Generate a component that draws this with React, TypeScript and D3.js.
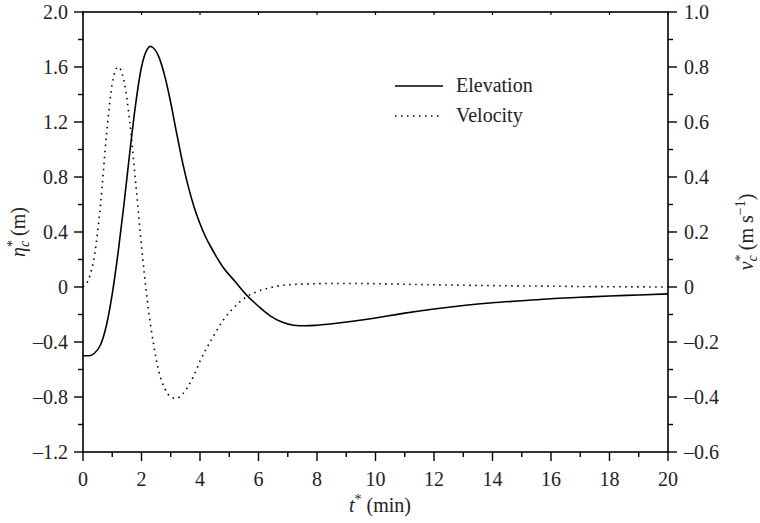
import React from "react";
import * as d3 from "d3";

const elevT = [0, 0.2, 0.4, 0.6, 0.8, 1.0, 1.2, 1.4, 1.6, 1.8, 2.0, 2.2, 2.3, 2.4, 2.6, 2.8, 3.0, 3.2, 3.4, 3.6, 3.8, 4.0, 4.2, 4.4, 4.8, 5.2, 5.6, 6.0, 6.4, 6.8, 7.2, 7.6, 8.0, 9, 10, 11, 12, 13, 14, 15, 16, 17, 18, 19, 20];
const elevV = [-0.5, -0.5, -0.48, -0.42, -0.28, -0.05, 0.25, 0.6, 0.98, 1.33, 1.6, 1.73, 1.75, 1.74, 1.67, 1.53, 1.34, 1.12, 0.91, 0.73, 0.58, 0.46, 0.36, 0.28, 0.14, 0.04, -0.06, -0.14, -0.21, -0.255, -0.278, -0.282, -0.278, -0.255, -0.225, -0.19, -0.16, -0.135, -0.115, -0.1, -0.085, -0.075, -0.065, -0.058, -0.05];

const velT = [0, 0.2, 0.4, 0.6, 0.8, 1.0, 1.2, 1.4, 1.6, 1.8, 2.0, 2.2, 2.4, 2.6, 2.8, 3.0, 3.2, 3.4, 3.6, 3.8, 4.0, 4.4, 4.8, 5.2, 5.6, 6.0, 6.5, 7, 8, 9, 10, 12, 14, 16, 18, 20];
const velV = [0, 0.03, 0.12, 0.3, 0.55, 0.74, 0.8, 0.75, 0.6, 0.38, 0.15, -0.05, -0.2, -0.31, -0.37, -0.4, -0.405, -0.39, -0.36, -0.32, -0.27, -0.19, -0.12, -0.07, -0.035, -0.015, 0, 0.008, 0.012, 0.013, 0.012, 0.008, 0.005, 0.003, 0.001, 0];

const xTicks = [0, 2, 4, 6, 8, 10, 12, 14, 16, 18, 20];
const xMinor = [1, 3, 5, 7, 9, 11, 13, 15, 17, 19];
const leftTicks = [2.0, 1.6, 1.2, 0.8, 0.4, 0, -0.4, -0.8, -1.2];
const leftMinor = [1.8, 1.4, 1.0, 0.6, 0.2, -0.2, -0.6, -1.0];
const rightTicks = [1.0, 0.8, 0.6, 0.4, 0.2, 0, -0.2, -0.4, -0.6];
const rightMinor = [0.9, 0.7, 0.5, 0.3, 0.1, -0.1, -0.3, -0.5];
const legendLabels = ["Elevation", "Velocity"];

const W = 760, H = 523;
const M = { left: 83, right: 668, top: 12, bottom: 452 };
const FONT = "'Liberation Serif', 'Times New Roman', Times, serif";
const C = "#000";
const FS = 20;
const SS = 14;
const TS = { fontFamily: FONT, fill: "#222" };

const fmt = (v: number, d: number) => (v === 0 ? "0" : (v < 0 ? "\u2013" : "") + Math.abs(v).toFixed(d));

export default function App() {
  const x = d3.scaleLinear().domain([0, 20]).range([M.left, M.right]);
  const yL = d3.scaleLinear().domain([-1.2, 2.0]).range([M.bottom, M.top]);
  const yR = d3.scaleLinear().domain([-0.6, 1.0]).range([M.bottom, M.top]);

  const elevLine = d3.line<number>().x((_, i) => x(elevT[i])).y((d) => yL(d)).curve(d3.curveMonotoneX);
  const velLine = d3.line<number>().x((_, i) => x(velT[i])).y((d) => yR(d)).curve(d3.curveMonotoneX);

  const maj = 9, min = 5;
  return (
    <svg width={W} height={H} style={{ position: "absolute", left: 0, top: 0, background: "#fff", fontFamily: FONT }}>
      <rect x={0} y={0} width={W} height={H} fill="#fff" />
      <path d={elevLine(elevV) || ""} fill="none" stroke={C} strokeWidth={1.6} />
      <path d={velLine(velV) || ""} fill="none" stroke={C} strokeWidth={1.6} strokeDasharray="1.5 4.5" />
      <rect x={M.left} y={M.top} width={M.right - M.left} height={M.bottom - M.top} fill="none" stroke={C} strokeWidth={1.6} />
      {xTicks.map((t) => (
        <g key={"xt" + t}>
          <line x1={x(t)} x2={x(t)} y1={M.bottom} y2={M.bottom + maj} stroke={C} strokeWidth={1.4} />
          <line x1={x(t)} x2={x(t)} y1={M.top} y2={M.top + 3} stroke={C} strokeWidth={1.2} />
          <text x={x(t)} y={M.bottom + 34} textAnchor="middle" fontSize={FS} style={TS}>{t}</text>
        </g>
      ))}
      {xMinor.map((t) => (
        <line key={"xm" + t} x1={x(t)} x2={x(t)} y1={M.bottom} y2={M.bottom + min} stroke={C} strokeWidth={1.4} />
      ))}
      {leftTicks.map((v) => (
        <g key={"lt" + v}>
          <line x1={M.left - maj} x2={M.left} y1={yL(v)} y2={yL(v)} stroke={C} strokeWidth={1.4} />
          <text x={M.left - 15} y={yL(v) + 7} textAnchor="end" fontSize={FS} style={TS}>{fmt(v, 1)}</text>
        </g>
      ))}
      {leftMinor.map((v) => (
        <line key={"lm" + v} x1={M.left - min} x2={M.left} y1={yL(v)} y2={yL(v)} stroke={C} strokeWidth={1.4} />
      ))}
      {rightTicks.map((v) => (
        <g key={"rt" + v}>
          <line x1={M.right} x2={M.right + maj} y1={yR(v)} y2={yR(v)} stroke={C} strokeWidth={1.4} />
          <text x={M.right + 16} y={yR(v) + 7} textAnchor="start" fontSize={FS} style={TS}>{fmt(v, 1)}</text>
        </g>
      ))}
      {rightMinor.map((v) => (
        <line key={"rm" + v} x1={M.right} x2={M.right + min} y1={yR(v)} y2={yR(v)} stroke={C} strokeWidth={1.4} />
      ))}
      <text x={380} y={M.bottom + 60} textAnchor="middle" fontSize={FS} style={TS}>
        <tspan fontStyle="italic">t</tspan>
        <tspan fontSize={SS} dy={-8}>*</tspan>
        <tspan dy={8}> (min)</tspan>
      </text>
      <text transform={`translate(25, ${(M.top + M.bottom) / 2}) rotate(-90)`} textAnchor="middle" fontSize={FS} style={TS}>
        <tspan fontStyle="italic">η</tspan>
        <tspan fontSize={SS} dy={-8}>*</tspan>
        <tspan fontSize={SS} fontStyle="italic" dx={-7} dy={12}>c</tspan>
        <tspan dy={-4}> (m)</tspan>
      </text>
      <text transform={`translate(753, ${(M.top + M.bottom) / 2}) rotate(-90)`} textAnchor="middle" fontSize={FS} style={TS}>
        <tspan fontStyle="italic">v</tspan>
        <tspan fontSize={SS} dy={-8}>*</tspan>
        <tspan fontSize={SS} fontStyle="italic" dx={-7} dy={12}>c</tspan>
        <tspan dy={-4}> (m s</tspan>
        <tspan fontSize={SS} dy={-8}>−1</tspan>
        <tspan dy={8}>)</tspan>
      </text>
      {legendLabels.map((lab, i) => {
        const ly = 86 + i * 30;
        return (
          <g key={lab}>
            <line x1={395} x2={443} y1={ly} y2={ly} stroke={C} strokeWidth={1.6} strokeDasharray={i === 1 ? "1.5 4.5" : undefined} />
            <text x={456} y={ly + 6} fontSize={FS} style={TS}>{lab}</text>
          </g>
        );
      })}
    </svg>
  );
}
